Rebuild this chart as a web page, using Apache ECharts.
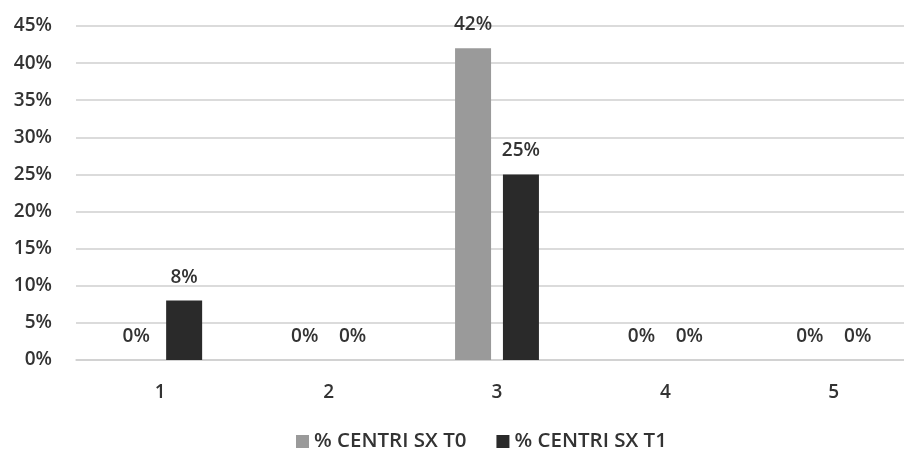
<!DOCTYPE html>
<html>
<head>
<meta charset="utf-8">
<style>
  html, body { margin: 0; padding: 0; background: #ffffff; }
  #chart { width: 904px; height: 459px; }
</style>
<script src="https://cdn.jsdelivr.net/npm/echarts@6/dist/echarts.min.js"></script>
</head>
<body>
<div id="chart"></div>
<script>
// Categories and percentages per series
const categories = ['1', '2', '3', '4', '5'];
const seriesNames = ['% CENTRI SX T0', '% CENTRI SX T1'];
const valuesT0 = [0, 0, 42, 0, 0];
const valuesT1 = [8, 0, 25, 0, 0];
const yTicks = [0, 5, 10, 15, 20, 25, 30, 35, 40, 45];

const textColor = '#333333';
const fontFamily = '"Open Sans", "Noto Sans", sans-serif';
const fontWeight = 600;

const chart = echarts.init(document.getElementById('chart'), null, { renderer: 'canvas' });

const labelStyle = {
  show: true,
  position: 'top',
  distance: 14,
  color: textColor,
  fontSize: 19,
  fontWeight: fontWeight,
  fontFamily: fontFamily,
  formatter: p => p.value + '%'
};

chart.setOption({
  animation: false,
  backgroundColor: '#ffffff',
  // plot area runs past the right edge of the canvas
  grid: {
    left: 76, top: 26, width: 842, height: 334,
    containLabel: false,
    outerBoundsMode: 'none'
  },
  legend: {
    bottom: 2,
    left: 291,
    itemWidth: 13,
    itemHeight: 13,
    itemGap: 30,
    icon: 'rect',
    textStyle: { color: textColor, fontSize: 20.5, fontWeight: fontWeight, fontFamily: fontFamily },
    data: seriesNames
  },
  xAxis: {
    type: 'category',
    data: categories,
    axisLine: { show: true, lineStyle: { color: '#cfcfcf', width: 1.5 } },
    axisTick: { show: false },
    axisLabel: { color: textColor, fontSize: 19, fontWeight: fontWeight, fontFamily: fontFamily, margin: 23 }
  },
  yAxis: {
    type: 'value',
    min: yTicks[0],
    max: yTicks[yTicks.length - 1],
    interval: 5,
    axisLine: { show: false },
    axisTick: { show: false },
    splitLine: { lineStyle: { color: '#cfcfcf', width: 1.5 } },
    axisLabel: {
      color: textColor,
      fontSize: 19,
      fontWeight: fontWeight,
      fontFamily: fontFamily,
      margin: 24,
      formatter: v => v + '%'
    }
  },
  series: [
    {
      name: seriesNames[0],
      type: 'bar',
      data: valuesT0,
      barWidth: 36,
      barGap: '33%',
      itemStyle: { color: '#9a9a9a' },
      label: labelStyle
    },
    {
      name: seriesNames[1],
      type: 'bar',
      data: valuesT1,
      barWidth: 36,
      itemStyle: { color: '#2a2a2a' },
      label: labelStyle
    }
  ]
});
</script>
</body>
</html>
